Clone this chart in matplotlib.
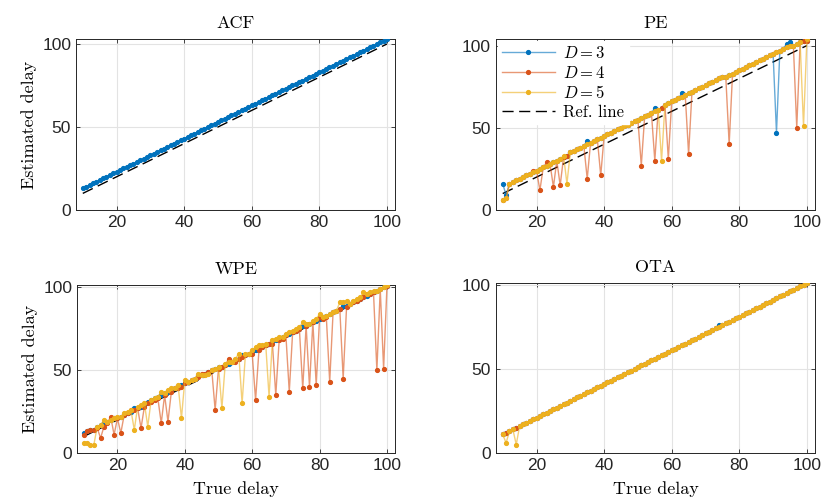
import matplotlib.pyplot as plt
import numpy as np

# true delay (x axis) for every panel
true_delay = np.arange(10, 101)

acf = [13, 14, 15, 16, 17, 18, 19, 20, 21, 22,
       23, 24, 25, 26, 27, 28, 29, 30, 31, 32,
       33, 34, 35, 36, 37, 38, 39, 40, 41, 42,
       43, 44, 45, 46, 47, 48, 49, 50, 51, 52,
       53, 54, 55, 56, 57, 58, 59, 60, 61, 62,
       63, 64, 65, 66, 67, 68, 69, 70, 71, 72,
       73, 74, 75, 76, 77, 78, 79, 80, 81, 82,
       83, 84, 85, 86, 87, 88, 89, 90, 91, 92,
       93, 94, 95, 96, 97, 98, 99, 100, 101, 102,
       103]

pe_d3 = [16, 9, 16, 17, 18, 19, 20, 21, 22, 23,
         24, 25, 26, 27, 28, 29, 30, 31, 32, 33,
         35, 36, 37, 38, 39, 42, 41, 42, 43, 44,
         45, 46, 47, 48, 49, 50, 51, 52, 53, 54,
         55, 56, 57, 58, 59, 62, 61, 62, 64, 65,
         66, 67, 68, 71, 70, 71, 72, 73, 74, 75,
         76, 77, 78, 79, 80, 81, 81, 82, 83, 84,
         85, 86, 87, 88, 89, 90, 91, 92, 93, 94,
         95, 47, 97, 98, 101, 102, 100, 101, 102, 103,
         103]
pe_d4 = [6, 7, 16, 17, 18, 19, 20, 21, 22, 24,
         24, 12, 26, 29, 28, 14, 30, 15, 32, 33,
         35, 36, 37, 38, 39, 19, 41, 42, 43, 21,
         45, 46, 47, 48, 49, 50, 51, 52, 53, 54,
         55, 27, 57, 58, 59, 30, 61, 62, 64, 31,
         66, 67, 68, 69, 70, 34, 72, 73, 74, 75,
         76, 77, 78, 79, 80, 81, 81, 40, 83, 84,
         85, 86, 87, 88, 89, 90, 91, 92, 93, 94,
         95, 96, 97, 98, 99, 100, 100, 50, 102, 103,
         103]
pe_d5 = [6, 7, 16, 17, 18, 19, 20, 21, 22, 23,
         24, 25, 26, 27, 28, 29, 30, 31, 33, 16,
         35, 36, 37, 38, 39, 40, 41, 42, 43, 44,
         45, 46, 47, 48, 49, 50, 51, 52, 53, 54,
         55, 56, 57, 58, 59, 60, 61, 30, 64, 65,
         66, 67, 68, 69, 70, 71, 72, 73, 74, 75,
         76, 77, 78, 79, 80, 81, 81, 82, 83, 84,
         85, 86, 87, 88, 89, 90, 91, 92, 93, 94,
         95, 96, 97, 98, 99, 100, 100, 101, 102, 51,
         104]

wpe_d3 = [12, 13, 14, 14, 16, 17, 18, 19, 20, 21,
          21, 22, 23, 24, 25, 27, 27, 28, 29, 31,
          32, 33, 34, 35, 36, 37, 38, 39, 40, 41,
          42, 43, 44, 45, 47, 47, 48, 49, 50, 51,
          52, 52, 53, 54, 55, 56, 57, 59, 59, 60,
          61, 62, 63, 64, 65, 66, 67, 68, 69, 70,
          71, 72, 73, 74, 75, 77, 77, 78, 79, 80,
          81, 82, 83, 84, 85, 86, 87, 89, 89, 90,
          91, 92, 93, 94, 95, 96, 97, 98, 99, 100,
          101]
wpe_d4 = [11, 13, 14, 14, 15, 9, 16, 18, 22, 11,
          21, 12, 23, 24, 26, 26, 27, 15, 28, 30,
          31, 32, 33, 18, 35, 19, 37, 39, 39, 40,
          42, 43, 44, 45, 46, 48, 48, 49, 50, 26,
          51, 52, 53, 57, 55, 55, 57, 58, 59, 60,
          60, 32, 62, 64, 65, 66, 66, 35, 68, 69,
          71, 37, 73, 74, 75, 39, 77, 40, 79, 41,
          82, 81, 82, 43, 85, 86, 87, 45, 88, 90,
          91, 92, 93, 94, 96, 96, 97, 50, 99, 51,
          101]
wpe_d5 = [6, 6, 5, 5, 16, 17, 20, 19, 20, 21,
          22, 22, 24, 25, 26, 14, 28, 29, 30, 16,
          32, 33, 34, 37, 36, 38, 39, 39, 41, 21,
          44, 43, 44, 45, 48, 47, 47, 48, 50, 51,
          52, 27, 54, 55, 55, 57, 60, 30, 60, 60,
          62, 64, 65, 65, 66, 34, 68, 69, 70, 70,
          72, 73, 74, 75, 76, 79, 78, 78, 80, 81,
          84, 82, 83, 84, 85, 86, 91, 91, 92, 90,
          92, 93, 94, 97, 96, 97, 98, 98, 99, 100,
          101.5]

ota_d3 = [11, 12, 13, 14, 15, 16, 17, 18, 19, 20,
          21, 22, 23, 24, 25, 26, 27, 28, 29, 30,
          31, 32, 33, 34, 35, 36, 37, 38, 39, 40,
          41, 42, 43, 44, 45, 46, 47, 48, 49, 50,
          51, 52, 53, 54, 55, 56, 57, 58, 59, 60,
          61, 62, 63, 64, 65, 66, 67, 68, 69, 70,
          71, 72, 73, 74, 76, 76, 77, 78, 79, 80,
          81, 82, 83, 84, 85, 86, 87, 88, 89, 90,
          91, 92, 93, 94, 95, 96, 97, 98, 99, 100,
          101]
ota_d4 = [11, 12, 13, 14, 15, 16, 17, 18, 19, 20,
          21, 22, 23, 24, 25, 26, 27, 28, 29, 30,
          31, 32, 33, 34, 35, 36, 37, 38, 39, 40,
          41, 42, 43, 44, 45, 46, 47, 48, 49, 50,
          51, 52, 53, 54, 55, 56, 57, 58, 59, 60,
          61, 62, 63, 64, 65, 66, 67, 68, 69, 70,
          71, 72, 73, 74, 75, 76, 77, 78, 79, 80,
          81, 82, 83, 84, 85, 86, 87, 88, 89, 90,
          91, 92, 93, 94, 95, 96, 97, 98, 99, 100,
          101]
ota_d5 = [11, 6, 13, 14, 5, 16, 17, 18, 19, 20,
          21, 22, 23, 24, 25, 26, 27, 28, 29, 30,
          31, 32, 33, 34, 35, 36, 37, 38, 39, 40,
          41, 42, 43, 44, 45, 46, 47, 48, 49, 50,
          51, 52, 53, 54, 55, 56, 57, 58, 59, 60,
          61, 62, 63, 64, 65, 66, 67, 68, 69, 70,
          71, 72, 73, 74, 75, 76, 77, 78, 79, 80,
          81, 82, 83, 84, 85, 86, 87, 88, 89, 90,
          91, 92, 93, 94, 95, 96, 97, 98, 99, 100,
          101]

titles = ["ACF", "PE", "WPE", "OTA"]
series_labels = ["$D=3$", "$D=4$", "$D=5$"]
colors = ["#0072BD", "#D95319", "#EDB120"]
xticks = [20, 40, 60, 80, 100]
yticks = [0, 50, 100]

plt.rcParams.update(
    {
        "font.family": "Liberation Sans",
        "font.size": 12.5,
        "mathtext.fontset": "cm",
        "axes.edgecolor": "#262626",
        "axes.linewidth": 0.7,
        "xtick.color": "#262626",
        "ytick.color": "#262626",
        "xtick.direction": "in",
        "ytick.direction": "in",
        "xtick.major.size": 3,
        "ytick.major.size": 3,
        "xtick.major.width": 0.6,
        "ytick.major.width": 0.6,
        "xtick.top": True,
        "ytick.right": True,
    }
)
serif = "cmr10"

fig = plt.figure(figsize=(8.21, 5.0), dpi=100)
positions = [
    [0.0926, 0.580, 0.3886, 0.342],
    [0.6041, 0.580, 0.3886, 0.342],
    [0.0938, 0.094, 0.3874, 0.336],
    [0.6041, 0.094, 0.3886, 0.340],
]
axes = [fig.add_axes(p) for p in positions]


def draw_series(ax, values, color, label=None):
    rgba = plt.matplotlib.colors.to_rgba(color)
    ax.plot(true_delay, values, color=(*rgba[:3], 0.6), lw=1.0, zorder=3,
            marker=".", ms=5.5, mfc=rgba, mec=rgba, label=label)


def draw_ref(ax):
    ax.plot(true_delay, true_delay, color="black", lw=1.0, zorder=2.5,
            ls=(0, (8, 4)), label="Ref. line")


# ACF
draw_series(axes[0], acf, colors[0])
draw_ref(axes[0])

panels = [(axes[1], [pe_d3, pe_d4, pe_d5]),
          (axes[2], [wpe_d3, wpe_d4, wpe_d5]),
          (axes[3], [ota_d3, ota_d4, ota_d5])]
for ax, group in panels:
    for vals, c, lab in zip(group, colors, series_labels):
        draw_series(ax, vals, c, lab)
    draw_ref(ax)

tops = [max(acf), max(max(pe_d3), max(pe_d4), max(pe_d5)),
        max(max(wpe_d3), max(wpe_d4), max(wpe_d5)),
        max(max(ota_d3), max(ota_d4), max(ota_d5))]

for i, ax in enumerate(axes):
    ax.set_xlim(8, 102.4)
    ax.set_ylim(0, tops[i])
    ax.set_xticks(xticks)
    ax.set_yticks(yticks)
    ax.grid(True, color="#e3e3e3", lw=0.8)
    ax.set_axisbelow(True)
    ax.set_title(titles[i], family=serif, fontsize=13, pad=8)
    if i % 2 == 0:
        ax.set_ylabel("Estimated delay", family=serif, fontsize=13, labelpad=4)
    if i >= 2:
        ax.set_xlabel("True delay", family=serif, fontsize=13, labelpad=6)

leg = axes[1].legend(loc="upper left", prop={"family": serif, "size": 12},
                     frameon=True, fancybox=False, edgecolor="white",
                     framealpha=1.0, handlelength=3.2, borderaxespad=0.1,
                     labelspacing=0.22, handletextpad=0.5, borderpad=0.25)

fig.savefig("out.png", dpi=100)
